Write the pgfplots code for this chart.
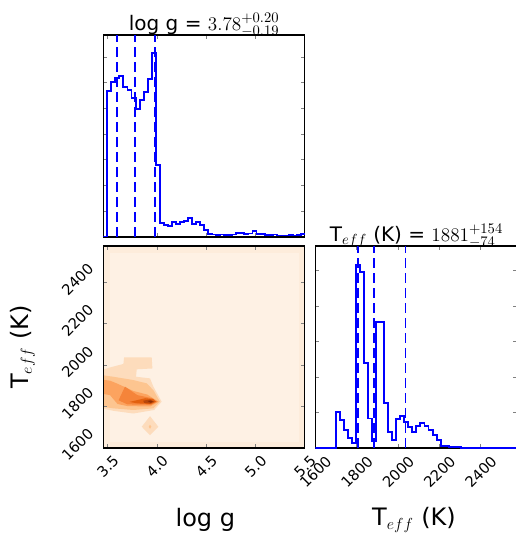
\documentclass[border=0pt]{standalone}
\usepackage{fontspec}
\setmainfont{DejaVu Sans}
\usepackage{pgfplots}
\pgfplotsset{compat=1.18}
\definecolor{hb}{RGB}{0,0,255}
\definecolor{bgout}{HTML}{FDECDB}
\definecolor{bgin}{HTML}{FEF1E4}
\definecolor{lvA}{HTML}{FDDCBC}
\definecolor{lvB}{HTML}{FDC590}
\definecolor{lvC}{HTML}{FCA35F}
\definecolor{lvD}{HTML}{F5843A}
\definecolor{lvE}{HTML}{E2600F}
\definecolor{lvF}{HTML}{B8470A}
\definecolor{lvG}{HTML}{8C2D04}
\pgfplotsset{
  corner/.style={
    scale only axis,
    anchor=south west,
    axis line style={line width=0.8pt},
    tick style={line width=0.7pt},
    major tick length=3pt,
    tick align=inside,
    xtick pos=both, ytick pos=both,
    tick label style={font=\fontsize{11}{13}\selectfont},
    label style={font=\fontsize{18}{21}\selectfont},
    title style={font=\fontsize{15}{18}\selectfont, at={(axis description cs:0.5,1)}, anchor=south, inner sep=0pt, yshift=-7.5pt},
  },
  hist/.style={draw=hb, line width=1.45pt, const plot, mark=none},
  qline/.style={draw=hb, line width=1.35pt, dash pattern=on 7.5pt off 3.75pt, mark=none},
}
\begin{document}
\begin{tikzpicture}
\useasboundingbox (0,0) rectangle (386.25pt,401.25pt);
% ---------- top: log g histogram
\begin{axis}[corner,
  at={(77.475pt,223.5pt)}, width=151.2pt, height=151.5pt,
  xmin=3.455, xmax=5.5, ymin=0, ymax=202,
  xtick={3.5,4.0,4.5,5.0,5.5}, xticklabels={},
  ytick={25.7,51.4,77.1,102.8,128.5,154.2,179.9}, yticklabels={},
  title={log g = $3.78^{+0.20}_{-0.19}$},
]
\addplot[qline] coordinates {(3.59,0) (3.59,202)};
\addplot[qline] coordinates {(3.78,0) (3.78,202)};
\addplot[qline] coordinates {(3.98,0) (3.98,202)};
\addplot[hist] coordinates {
(3.455,0) (3.4959,146.3) (3.5368,155.3) (3.5777,158.7) (3.6186,161) (3.6595,150.3)
(3.7004,147) (3.7413,138.7) (3.7822,128) (3.8231,137) (3.864,144.7) (3.9049,158)
(3.9458,183.7) (3.9867,72) (4.0276,13.7) (4.0685,12) (4.1094,11) (4.1503,14.7)
(4.1912,13.3) (4.2321,14.7) (4.273,16) (4.3139,18.7) (4.3548,13.3) (4.3957,15.3)
(4.4366,12) (4.4775,7) (4.5184,3) (4.5593,2.5) (4.6002,2) (4.6411,2.5) (4.682,2)
(4.7229,2) (4.7638,2.5) (4.8047,4) (4.8456,4) (4.8865,3) (4.9274,3.5) (4.9683,6)
(5.0092,3) (5.0501,3) (5.091,2) (5.1319,2) (5.1728,2.5) (5.2137,1.5) (5.2546,1.5)
(5.2955,1.5) (5.3364,2) (5.3773,1.5) (5.4182,2) (5.4591,3) (5.5,3)};
\end{axis}
% ---------- bottom left: 2D density
\begin{axis}[corner,
  at={(77.475pt,65.25pt)}, width=151.2pt, height=151.5pt,
  xmin=3.455, xmax=5.5, ymin=1599, ymax=2577,
  axis on top,
  axis background/.style={fill=bgout},
  xtick={3.5,4.0,4.5,5.0,5.5}, xticklabels={3.5,4.0,4.5,5.0,5.5},
  ytick={1600,1800,2000,2200,2400}, yticklabels={1600,1800,2000,2200,2400},
  xticklabel style={yshift=-13.9pt, rotate=45, anchor=center},
  yticklabel style={xshift=-19.4pt, yshift=2.5pt, rotate=45, anchor=center},
  xlabel={log g},
  ylabel={T$_{eff}$ (K)},
  xlabel style={at={(axis description cs:0.506,-0.356)}, anchor=center},
  ylabel style={at={(axis description cs:-0.40,0.5)}, anchor=center},
]
\addplot[fill=bgin, draw=none] coordinates {(3.523,1629) (5.4435,1629) (5.4435,2545) (3.523,2545)} --cycle;
\addplot[fill=lvA, draw=none] coordinates {
(3.44,1976) (3.523,1989) (3.659,2006) (3.666,2038) (3.946,2038) (3.953,1984)
(3.794,1980) (3.787,1944) (3.929,1936) (3.963,1896) (4.047,1823) (3.970,1783)
(3.760,1766) (3.557,1779) (3.44,1791)} --cycle;
\addplot[fill=lvA, draw=none] coordinates {(3.929,1753) (4.013,1702) (3.929,1661) (3.845,1702)} --cycle;
\addplot[fill=lvB, draw=none] coordinates {(3.929,1712) (3.942,1702) (3.929,1692) (3.916,1702)} --cycle;
\addplot[fill=lvB, draw=none] coordinates {
(3.44,1952) (3.557,1944) (3.760,1928) (3.895,1912) (3.963,1879) (4.030,1823)
(3.963,1791) (3.760,1783) (3.557,1791) (3.44,1799)} --cycle;
\addplot[fill=lvC, draw=none] coordinates {
(3.44,1930) (3.523,1925) (3.60,1910) (3.76,1875) (3.90,1858) (4.015,1823)
(3.93,1800) (3.70,1802) (3.60,1812) (3.523,1855) (3.44,1862)} --cycle;
\addplot[fill=lvD, draw=none] coordinates {
(3.61,1830) (3.675,1896) (3.80,1855) (3.95,1840) (4.0,1823) (3.94,1808) (3.70,1810)} --cycle;
\addplot[fill=lvE, draw=none] coordinates {
(3.72,1822) (3.88,1840) (3.96,1836) (3.99,1823) (3.94,1812) (3.80,1815)} --cycle;
\addplot[fill=lvF, draw=none] coordinates {
(3.86,1828) (3.93,1834) (3.975,1823) (3.93,1814) (3.87,1818)} --cycle;
\addplot[fill=lvG, draw=none] coordinates {
(3.905,1826) (3.935,1829) (3.96,1823) (3.935,1818)} --cycle;
\end{axis}
% ---------- bottom right: Teff histogram
\begin{axis}[corner,
  at={(236.55pt,65.25pt)}, width=151.5pt, height=151.5pt,
  xmin=1599, xmax=2577, ymin=0, ymax=603,
  xtick={1600,1800,2000,2200,2400}, xticklabels={1600,1800,2000,2200,2400},
  xticklabel style={yshift=-18pt, rotate=45, anchor=center},
  ytick={105.7,211.4,317.1,422.8,528.5}, yticklabels={},
  xlabel={T$_{eff}$ (K)},
  xlabel style={at={(axis description cs:0.488,-0.356)}, anchor=center},
  title={T$_{eff}$ (K) = $1881^{+154}_{-74}$},
]
\addplot[qline] coordinates {(1807,0) (1807,603)};
\addplot[qline] coordinates {(1881,0) (1881,603)};
\addplot[qline] coordinates {(2035,0) (2035,603)};
\addplot[hist] coordinates {
(1599,0) (1618.56,0) (1638.12,0) (1657.68,0) (1677.24,0) (1696.8,108)
(1716.36,83) (1735.92,55) (1755.48,31) (1775.04,15) (1794.6,546) (1814.16,526)
(1833.72,253) (1853.28,88) (1872.84,21) (1892.4,375) (1911.96,375) (1931.52,133)
(1951.08,48) (1970.64,23) (1990.2,86) (2009.76,95) (2029.32,78) (2048.88,63)
(2068.44,47) (2088,66) (2107.56,76) (2127.12,66) (2146.68,53) (2166.24,40)
(2185.8,23) (2205.36,6) (2224.92,6) (2244.48,3) (2264.04,3) (2283.6,2)
(2303.16,1) (2322.72,1) (2342.28,0.5) (2361.84,0) (2381.4,0) (2577,0)};
\end{axis}
\end{tikzpicture}
\end{document}
